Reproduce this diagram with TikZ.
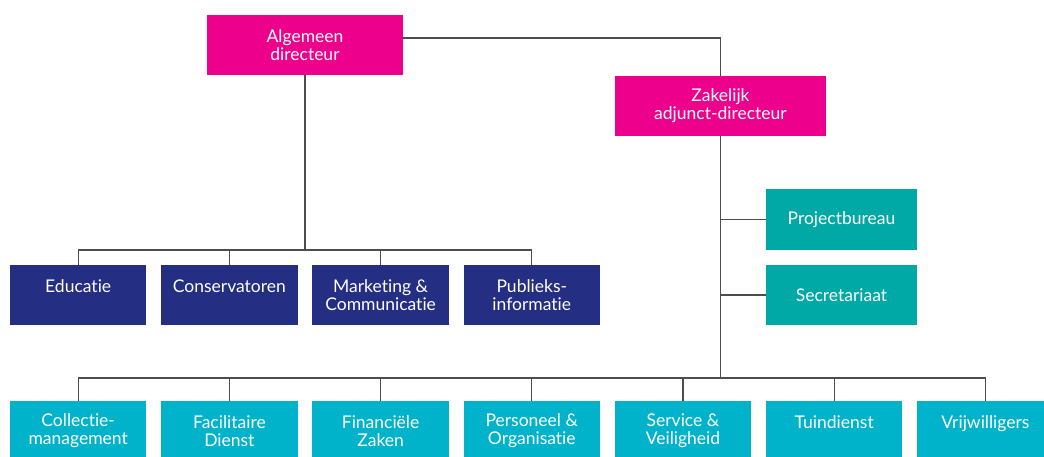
\documentclass[tikz,border=0pt]{standalone}
\usepackage{fontspec}
\setmainfont{Lato}[Ligatures=NoCommon]
\definecolor{magentabox}{HTML}{EC008C}
\definecolor{navybox}{HTML}{242E82}
\definecolor{tealbox}{HTML}{00A8A6}
\definecolor{cyanbox}{HTML}{00B3CA}
\definecolor{linegray}{HTML}{4D4D4D}
\begin{document}
\begin{tikzpicture}[x=1pt,y=1pt,
  box/.style={rectangle, inner sep=0pt, text=white, align=center,
    font=\fontsize{17.5}{18}\selectfont},
  topbox/.style={box, fill=magentabox, minimum height=60},
  navy/.style={box, fill=navybox, minimum width=136.5, minimum height=60},
  teal/.style={box, fill=tealbox, minimum width=151, minimum height=60.5},
  cyan/.style={box, fill=cyanbox, minimum width=136.5, minimum height=60},
  conn/.style={draw=linegray, line width=1.3pt}]
\useasboundingbox (0,0) rectangle (1044,-456);
\clip (0,0) rectangle (1044,-456);
% top level
\node[topbox, minimum width=196] (ad) at (305,-45) {Algemeen\\directeur};
\node[topbox, minimum width=211] (zad) at (720.5,-106) {Zakelijk\\adjunct-directeur};
% staff
\node[teal] (pb) at (841.5,-219.5) {Projectbureau};
\node[teal] (sec) at (841.5,-295) {Secretariaat};
% row 2
\node[navy] (edu) at (78.2,-295) {Educatie\\\mbox{}};
\node[navy] (con) at (229.4,-295) {Conservatoren\\\mbox{}};
\node[navy] (mar) at (380.6,-295) {Marketing \&\\Communicatie};
\node[navy] (pub) at (531.8,-295) {Publieks-\\informatie};
% row 3
\node[cyan] (col) at (78.2,-431) {Collectie-\\management};
\node[cyan] (fac) at (229.4,-431) {Facilitaire\\Dienst};
\node[cyan] (fin) at (380.6,-431) {Financiële\\Zaken};
\node[cyan] (per) at (531.8,-431) {Personeel \&\\Organisatie};
\node[cyan] (ser) at (683,-431) {Service \&\\Veiligheid};
\node[cyan] (tui) at (834.2,-431) {Tuindienst\\\mbox{}};
\node[cyan] (vri) at (985.4,-431) {Vrijwilligers\\\mbox{}};
% connectors
\coordinate (busA) at (305,-250);
\coordinate (busZ) at (720.5,-378);
\draw[conn] ([yshift=7pt]ad.east) -| (zad.north);
\draw[conn] (ad.south) -- (busA);
\draw[conn] (edu.north) |- (busA) -| (pub.north);
\draw[conn] (con.north) |- (busA);
\draw[conn] (mar.north) |- (busA);
\draw[conn] (zad.south) -- (busZ);
\draw[conn] (pb.west) -| (zad.south);
\draw[conn] (sec.west) -| (zad.south);
\draw[conn] (col.north) |- (busZ) -| (vri.north);
\foreach \n in {fac,fin,per,ser,tui}{\draw[conn] (\n.north) |- (busZ);}
\end{tikzpicture}
\end{document}
